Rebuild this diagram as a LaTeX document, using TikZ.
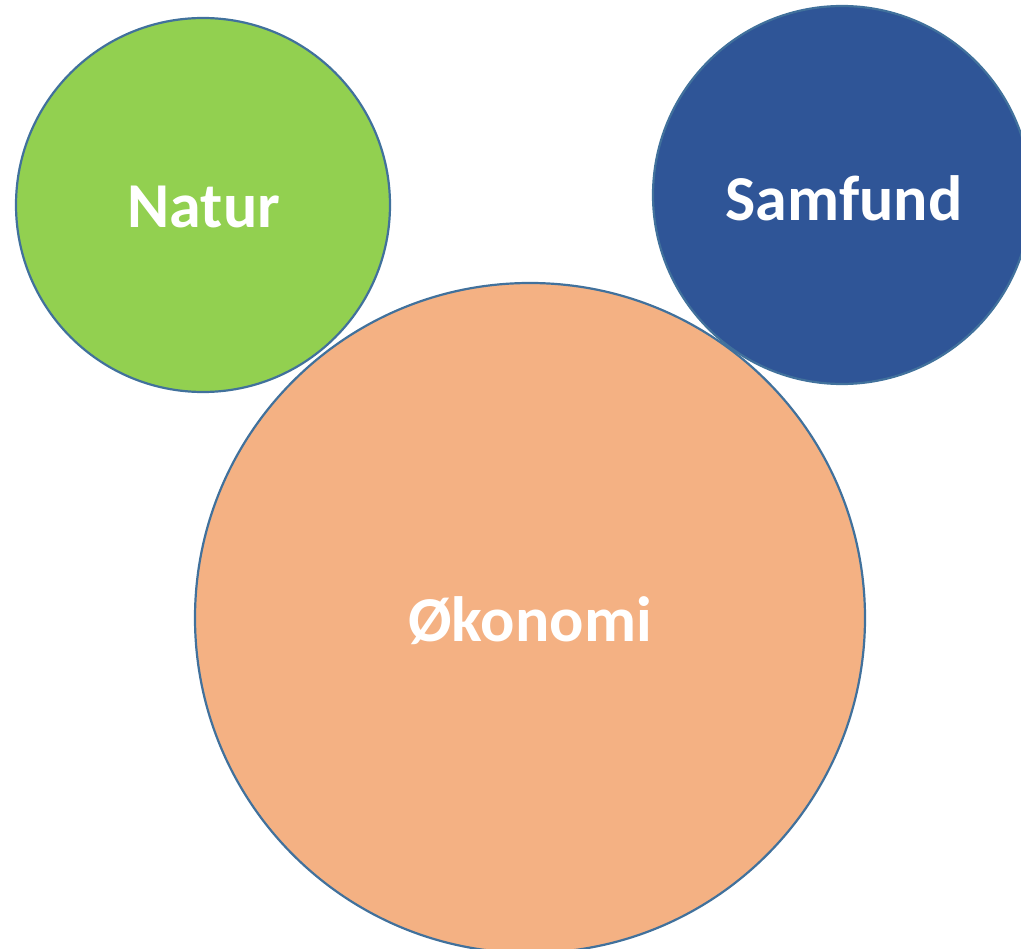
\documentclass[tikz,border=0pt]{standalone}
\usepackage{fontspec}
\setmainfont{Carlito}
\definecolor{natgreen}{HTML}{92D050}
\definecolor{samblue}{HTML}{2F5597}
\definecolor{okoorange}{HTML}{F4B183}
\definecolor{rimblue}{HTML}{41719C}
\begin{document}
\begin{tikzpicture}[x=1pt,y=-1pt,
  bubble/.style={circle,draw=rimblue,line width=2.2pt,inner sep=0pt},
  label/.style={font=\fontsize{64}{76}\selectfont\bfseries,text=white}]
\useasboundingbox (0,0) rectangle (1021,949);
\clip (0,0) rectangle (1021,949);
\node[bubble,fill=natgreen,minimum size=374pt] (natur) at (203,205) {};
\node[bubble,fill=samblue,minimum size=378pt] (samfund) at (842,195) {};
\node[bubble,fill=okoorange,minimum size=670pt] (okonomi) at (530,618) {};
\node[label] (tn) at (204,207) {Natur};
\node[label] (ts) at (844,198) {Samfund};
\node[label] (to) at (530,621) {Økonomi};
\end{tikzpicture}
\end{document}
